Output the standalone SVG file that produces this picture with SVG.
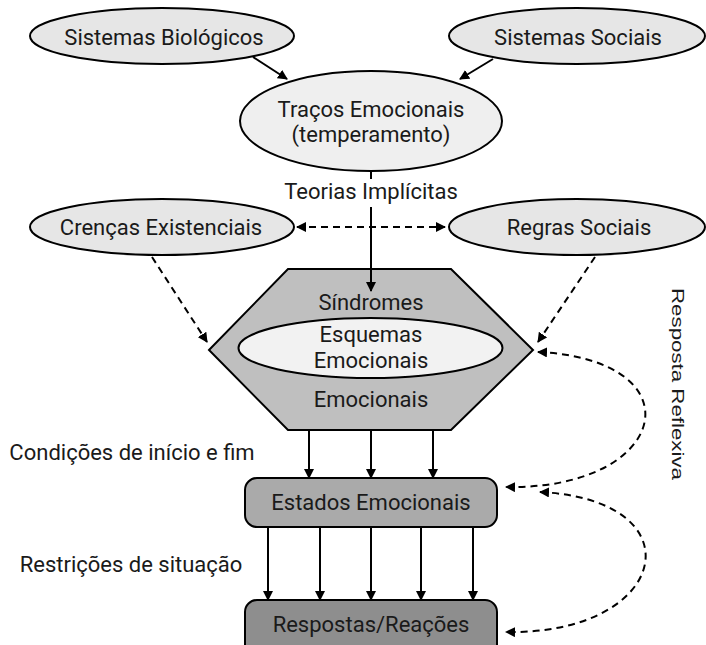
<svg xmlns="http://www.w3.org/2000/svg" width="706" height="645" viewBox="0 0 706 645">
  <defs>
    <marker id="arrow" viewBox="0 0 10 10" refX="9" refY="5" markerWidth="10" markerHeight="10" markerUnits="userSpaceOnUse" orient="auto-start-reverse">
      <path d="M0,0 L10,5 L0,10 z" fill="#000"/>
    </marker>
    <style>
      .lbl { font-family: Roboto, "Liberation Sans", sans-serif; font-size: 22px; fill: #1a1a1a; text-anchor: middle; }
      .side { font-family: "Liberation Sans", Arial, sans-serif; font-size: 16.5px; fill: #1a1a1a; }
      .shape { stroke: #000; stroke-width: 2; }
      .ell { fill: #e6e6e6; }
      .wire { fill: none; stroke: #000; stroke-width: 2; }
      .dash { fill: none; stroke: #000; stroke-width: 2; stroke-dasharray: 7 5; }
    </style>
  </defs>

  <rect width="706" height="645" fill="#fff"/>

  <!-- Nodes -->
  <g id="sistemas-biologicos">
    <ellipse class="shape ell" cx="162" cy="36" rx="132" ry="28"/>
    <text class="lbl" x="164" y="45">Sistemas Biológicos</text>
  </g>
  <g id="sistemas-sociais">
    <ellipse class="shape ell" cx="577" cy="36" rx="128" ry="28"/>
    <text class="lbl" x="578" y="45">Sistemas Sociais</text>
  </g>
  <g id="tracos-emocionais">
    <ellipse class="shape" fill="#efefef" cx="371" cy="121" rx="131" ry="50"/>
    <text class="lbl" x="371" y="117">Traços Emocionais</text>
    <text class="lbl" x="371" y="142">(temperamento)</text>
  </g>
  <g id="crencas-existenciais">
    <ellipse class="shape ell" cx="162" cy="227" rx="132" ry="28"/>
    <text class="lbl" x="161" y="235">Crenças Existenciais</text>
  </g>
  <g id="regras-sociais">
    <ellipse class="shape ell" cx="577" cy="227" rx="128" ry="28"/>
    <text class="lbl" x="579" y="235">Regras Sociais</text>
  </g>
  <g id="sindromes">
    <polygon class="shape" fill="#bfbfbf" points="209,350 288,269 451,269 533,350 451,430 288,430"/>
    <text class="lbl" x="371" y="310">Síndromes</text>
    <text class="lbl" x="371" y="407">Emocionais</text>
  </g>
  <g id="esquemas-emocionais">
    <ellipse class="shape" fill="#f2f2f2" cx="370.5" cy="348" rx="132" ry="30"/>
    <text class="lbl" x="371" y="342">Esquemas</text>
    <text class="lbl" x="371" y="368">Emocionais</text>
  </g>
  <g id="estados-emocionais">
    <rect class="shape" fill="#aaaaaa" x="245" y="478" width="252" height="49" rx="12"/>
    <text class="lbl" x="371" y="510">Estados Emocionais</text>
  </g>
  <g id="respostas-reacoes">
    <rect class="shape" fill="#8e8e8e" x="245" y="600" width="252" height="56" rx="12"/>
    <text class="lbl" x="371" y="632">Respostas/Reações</text>
  </g>

  <!-- Connectors -->
  <g id="connectors">
    <line class="wire" x1="253" y1="57" x2="287" y2="79" marker-end="url(#arrow)"/>
    <line class="wire" x1="493" y1="59" x2="460" y2="79" marker-end="url(#arrow)"/>
    <line class="wire" x1="371" y1="171" x2="371" y2="179"/>
    <line class="wire" x1="371" y1="207" x2="371" y2="291" marker-end="url(#arrow)"/>
    <line class="dash" x1="297" y1="227" x2="445" y2="227" marker-start="url(#arrow)" marker-end="url(#arrow)"/>
    <line class="dash" x1="152" y1="257" x2="207" y2="342" marker-end="url(#arrow)"/>
    <line class="dash" x1="595" y1="257" x2="538" y2="342" marker-end="url(#arrow)"/>
    <line class="wire" x1="309" y1="430" x2="309" y2="478" marker-end="url(#arrow)"/>
    <line class="wire" x1="371" y1="430" x2="371" y2="478" marker-end="url(#arrow)"/>
    <line class="wire" x1="433" y1="430" x2="433" y2="478" marker-end="url(#arrow)"/>
    <line class="wire" x1="268" y1="527" x2="268" y2="600" marker-end="url(#arrow)"/>
    <line class="wire" x1="320" y1="527" x2="320" y2="600" marker-end="url(#arrow)"/>
    <line class="wire" x1="371" y1="527" x2="371" y2="600" marker-end="url(#arrow)"/>
    <line class="wire" x1="421" y1="527" x2="421" y2="600" marker-end="url(#arrow)"/>
    <line class="wire" x1="473" y1="527" x2="473" y2="600" marker-end="url(#arrow)"/>
    <path class="dash" d="M538,352 C700,360 670,490 506,487" marker-start="url(#arrow)" marker-end="url(#arrow)"/>
    <path class="dash" d="M540,492 C700,500 670,635 506,632" marker-start="url(#arrow)" marker-end="url(#arrow)"/>
  </g>

  <!-- Free labels -->
  <text class="lbl" x="371" y="199">Teorias Implícitas</text>
  <text class="lbl" x="132" y="460">Condições de início e fim</text>
  <text class="lbl" x="131" y="572">Restrições de situação</text>
  <text class="side" transform="translate(672,288) rotate(90)" textLength="192" lengthAdjust="spacingAndGlyphs">Resposta Reflexiva</text>
</svg>
